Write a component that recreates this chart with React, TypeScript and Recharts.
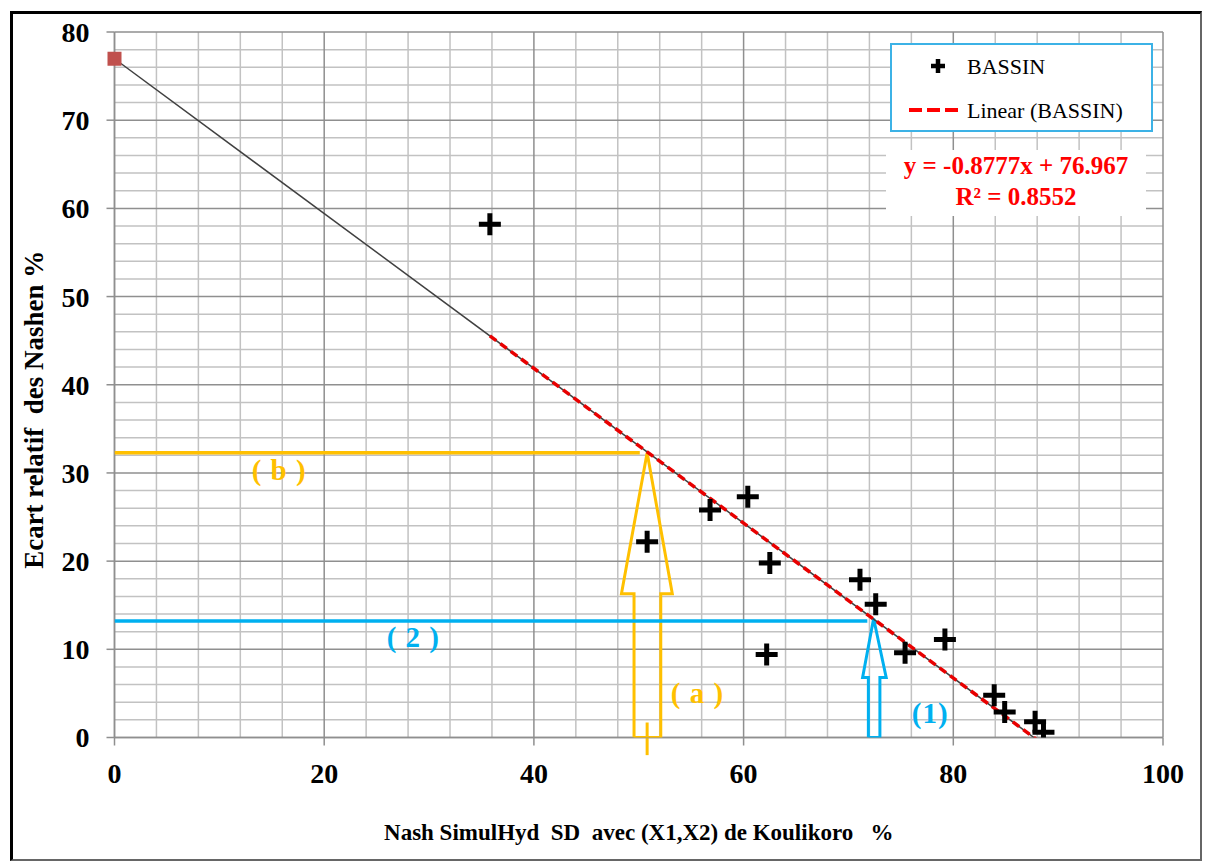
import React from 'react';
import {
  ScatterChart,
  Scatter,
  XAxis,
  YAxis,
  CartesianGrid,
  ReferenceDot,
  ReferenceLine,
  Label
} from 'recharts';

// BASSIN points
const nashX = [35.8, 50.8, 56.8, 60.4, 62.5, 62.2, 71.1, 72.6, 75.4, 79.2, 83.9, 84.9, 87.8, 88.6];
const ecartY = [58.2, 22.2, 25.8, 27.3, 19.8, 9.4, 17.9, 15.1, 9.6, 11.1, 4.8, 2.9, 1.8, 0.6];

// trend line given on the chart
const SLOPE = -0.8777;
const INTERCEPT = 76.967;
const R2 = 0.8552;

const xTicks = [0, 20, 40, 60, 80, 100];
const yTicks = [0, 10, 20, 30, 40, 50, 60, 70, 80];
const xMinor = [4, 8, 12, 16, 24, 28, 32, 36, 44, 48, 52, 56, 64, 68, 72, 76, 84, 88, 92, 96];
const yMinor = [2, 4, 6, 8, 12, 14, 16, 18, 22, 24, 26, 28, 32, 34, 36, 38, 42, 44, 46, 48, 52, 54, 56, 58, 62, 64, 66, 68, 72, 74, 76, 78];

// reading guides (a)/(b) and (1)/(2)
const levelB = [{ x: 0, y: 32.3 }, { x: 50.1, y: 32.3 }];
const arrowA = [
  { x: 49.55, y: 0 }, { x: 49.55, y: 16.3 }, { x: 48.35, y: 16.3 }, { x: 50.8, y: 32.3 },
  { x: 53.2, y: 16.3 }, { x: 52.1, y: 16.3 }, { x: 52.1, y: 0 }, { x: 49.55, y: 0 }
];
const level2 = [{ x: 0, y: 13.2 }, { x: 71.8, y: 13.2 }];
const arrow1 = [
  { x: 71.9, y: 0 }, { x: 71.9, y: 6.8 }, { x: 71.35, y: 6.8 }, { x: 72.4, y: 13.5 },
  { x: 73.6, y: 6.8 }, { x: 73.0, y: 6.8 }, { x: 73.0, y: 0 }, { x: 71.9, y: 0 }
];

const X_DOMAIN = [0, 100];
const Y_DOMAIN = [0, 80];

const points = nashX.map((x, i) => ({ x, y: ecartY[i] }));
const xMin = Math.min(...nashX);
const xMax = Math.max(...nashX);
const trendFit = [
  { x: xMin, y: SLOPE * xMin + INTERCEPT },
  { x: xMax, y: SLOPE * xMax + INTERCEPT }
];
const trendFull = [
  { x: 0, y: INTERCEPT },
  { x: -INTERCEPT / SLOPE, y: 0 }
];

const SERIF = '"Liberation Serif", "Times New Roman", serif';
const YELLOW = '#ffc000';
const BLUE = '#00b0f0';
const NBSP = '\u00a0';

const NoDot = () => <g />;

const Cross = (props: any) => {
  const { cx, cy } = props;
  return (
    <path
      d={`M${cx - 11},${cy}H${cx + 11}M${cx},${cy - 11}V${cy + 11}`}
      stroke="#000"
      strokeWidth={5}
    />
  );
};

const Square = (props: any) => {
  const { cx, cy } = props;
  return <rect x={cx - 7} y={cy - 7} width={14} height={14} fill="#c0504d" />;
};

const tickStyle = { fill: '#000', fontSize: 28, fontWeight: 700, fontFamily: SERIF };
const guideLabel = (value: string, color: string) => ({
  value,
  position: 'center' as const,
  fill: color,
  fontSize: 29,
  fontWeight: 700,
  fontFamily: SERIF,
  letterSpacing: 1
});

// minor grid positions mapped through the axis scale when it is available
const mapX = (xAxis: any, offset: any, v: number) =>
  xAxis && typeof xAxis.scale === 'function'
    ? xAxis.scale(v)
    : offset.left + ((v - X_DOMAIN[0]) / (X_DOMAIN[1] - X_DOMAIN[0])) * offset.width;
const mapY = (yAxis: any, offset: any, v: number) =>
  yAxis && typeof yAxis.scale === 'function'
    ? yAxis.scale(v)
    : offset.top + offset.height - ((v - Y_DOMAIN[0]) / (Y_DOMAIN[1] - Y_DOMAIN[0])) * offset.height;

const YTitle = (props: any) => {
  const vb = props.viewBox || { x: 14, y: 32, width: 100, height: 706 };
  const cx = vb.x + 19;
  const cy = vb.y + vb.height / 2 + 25;
  return (
    <text
      x={cx}
      y={cy}
      transform={`rotate(-90, ${cx}, ${cy})`}
      textAnchor="middle"
      dominantBaseline="central"
      fontSize={27}
      fontWeight={700}
      fontFamily={SERIF}
      fill="#000"
    >
      {`Ecart relatif${NBSP} des Nashen %`}
    </text>
  );
};

export default function App() {
  return (
    <div
      style={{
        position: 'absolute',
        left: 0,
        top: 0,
        width: 1205,
        height: 863,
        background: '#fff',
        fontFamily: SERIF
      }}
    >
      <div
        style={{
          position: 'absolute',
          left: 10,
          top: 11,
          width: 1192,
          height: 850,
          boxSizing: 'border-box',
          borderLeft: '3px solid #000',
          borderTop: '3px solid #000',
          borderRight: '2px solid #666',
          borderBottom: '2px solid #666'
        }}
      />
      <div style={{ position: 'absolute', left: 0, top: 0 }}>
        <ScatterChart
          width={1205}
          height={863}
          margin={{ top: 32, right: 42, bottom: 15.5, left: 14.5 }}
        >
          <CartesianGrid
            stroke="#c2c2c2"
            strokeWidth={1.5}
            verticalCoordinatesGenerator={({ xAxis, offset }: any) =>
              xMinor.map(v => mapX(xAxis, offset, v))
            }
            horizontalCoordinatesGenerator={({ yAxis, offset }: any) =>
              yMinor.map(v => mapY(yAxis, offset, v))
            }
          />
          <CartesianGrid stroke="#8f8f8f" strokeWidth={1.5} />
          <XAxis
            type="number"
            dataKey="x"
            domain={X_DOMAIN}
            ticks={xTicks}
            allowDataOverflow
            height={110}
            tickSize={8}
            tickMargin={18}
            stroke="#8f8f8f"
            strokeWidth={1.5}
            tick={tickStyle}
          >
            <Label
              value={`Nash SimulHyd ${NBSP}SD ${NBSP}avec (X1,X2) de Koulikoro ${NBSP}${NBSP}%`}
              position="insideBottom"
              offset={8}
              fill="#000"
              fontSize={23}
              fontWeight={700}
              fontFamily={SERIF}
            />
          </XAxis>
          <YAxis
            type="number"
            dataKey="y"
            domain={Y_DOMAIN}
            ticks={yTicks}
            allowDataOverflow
            width={100}
            tickSize={8}
            tickMargin={17}
            stroke="#8f8f8f"
            strokeWidth={1.5}
            tick={tickStyle}
          >
            <Label content={<YTitle />} />
          </YAxis>

          <Scatter data={levelB} shape={NoDot} line={{ stroke: YELLOW, strokeWidth: 3.5 }} isAnimationActive={false} />
          <Scatter data={arrowA} shape={NoDot} line={{ stroke: YELLOW, strokeWidth: 3 }} isAnimationActive={false} />
          <Scatter data={level2} shape={NoDot} line={{ stroke: BLUE, strokeWidth: 3.5 }} isAnimationActive={false} />
          <Scatter data={arrow1} shape={NoDot} line={{ stroke: BLUE, strokeWidth: 3 }} isAnimationActive={false} />
          <ReferenceLine
            segment={[{ x: 50.8, y: -2 }, { x: 50.8, y: 1.7 }]}
            stroke={YELLOW}
            strokeWidth={3}
            ifOverflow="visible"
          />

          <Scatter data={trendFull} shape={NoDot} line={{ stroke: '#404040', strokeWidth: 1.5 }} isAnimationActive={false} />
          <Scatter
            data={trendFit}
            shape={NoDot}
            line={{ stroke: '#e80000', strokeWidth: 3.5, strokeDasharray: '8 5' }}
            isAnimationActive={false}
          />
          <Scatter name="BASSIN" data={points} shape={Cross} isAnimationActive={false} />
          <ReferenceDot x={0} y={INTERCEPT} ifOverflow="visible" shape={Square} />

          <ReferenceDot x={15.7} y={30.4} r={0} stroke="none" label={guideLabel('( b )', YELLOW)} />
          <ReferenceDot x={55.6} y={5.1} r={0} stroke="none" label={guideLabel('( a )', YELLOW)} />
          <ReferenceDot x={28.5} y={11.4} r={0} stroke="none" label={guideLabel('( 2 )', BLUE)} />
          <ReferenceDot x={77.8} y={2.8} r={0} stroke="none" label={guideLabel('(1)', BLUE)} />
        </ScatterChart>
      </div>

      {/* legend */}
      <div
        style={{
          position: 'absolute',
          left: 890,
          top: 43,
          width: 263,
          height: 89,
          boxSizing: 'border-box',
          border: '2px solid #3cb2e6',
          background: '#fff'
        }}
      >
        <svg width={259} height={85} style={{ position: 'absolute', left: 0, top: 0 }}>
          <path d="M39,21H53M46,14V28" stroke="#000" strokeWidth={4.5} />
          <line x1={17} y1={65} x2={66} y2={65} stroke="#ff0000" strokeWidth={4} strokeDasharray="13 5" />
          <text x={75} y={21} dominantBaseline="central" fontSize={22} fontFamily={SERIF} fill="#000">
            BASSIN
          </text>
          <text x={75} y={65} dominantBaseline="central" fontSize={22} fontFamily={SERIF} fill="#000">
            Linear (BASSIN)
          </text>
        </svg>
      </div>

      {/* equation */}
      <div
        style={{
          position: 'absolute',
          left: 886,
          top: 150,
          width: 260,
          height: 66,
          background: '#fff',
          color: '#ff0000',
          fontWeight: 700,
          fontSize: 25,
          textAlign: 'center',
          lineHeight: '31px',
          fontFamily: SERIF
        }}
      >
        <div>{`y = ${SLOPE}x + ${INTERCEPT}`}</div>
        <div>{`R² = ${R2}`}</div>
      </div>
    </div>
  );
}
